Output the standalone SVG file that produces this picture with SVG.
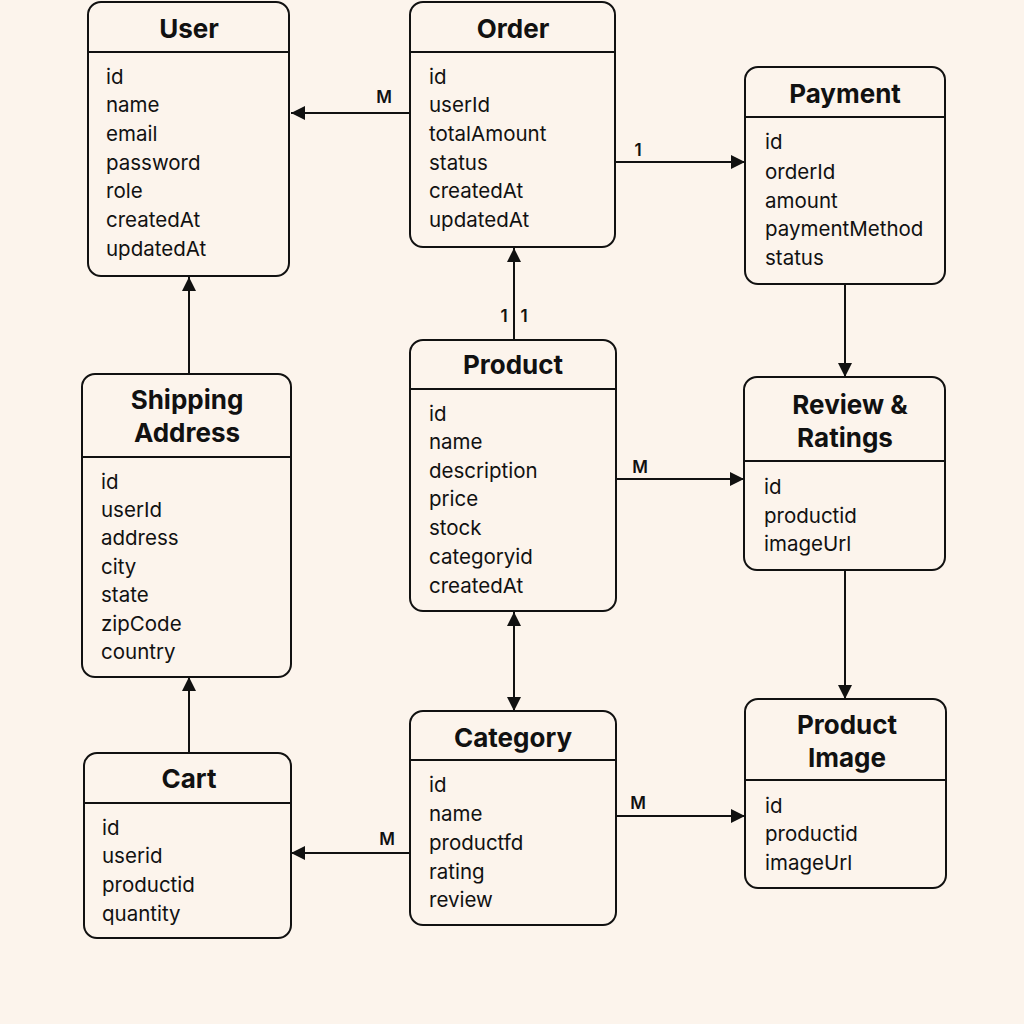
<svg xmlns="http://www.w3.org/2000/svg" width="1024" height="1024" viewBox="0 0 1024 1024">
<defs>
<marker id="arr" viewBox="0 0 10 10" refX="10" refY="5" markerWidth="14" markerHeight="14" markerUnits="userSpaceOnUse" orient="auto-start-reverse">
<path d="M0,0 L10,5 L0,10 z" fill="#111"/>
</marker>
<style>
.box{fill:#FCF4EC;stroke:#111;stroke-width:2}
.div{stroke:#111;stroke-width:1.8}
.t{font-family:Inter,"Liberation Sans",sans-serif;font-weight:700;font-size:26px;fill:#111;text-anchor:middle;dominant-baseline:central}
.f{font-family:Inter,"Liberation Sans",sans-serif;font-size:20.5px;fill:#111;dominant-baseline:central}
.c{stroke:#111;stroke-width:2;fill:none}
.l{font-family:Inter,"Liberation Sans",sans-serif;font-weight:600;font-size:17px;fill:#111;text-anchor:middle;dominant-baseline:central}
</style>
</defs>
<rect width="1024" height="1024" fill="#FCF4EC"/>

<g id="connectors">
<line class="c" x1="410" y1="113" x2="291" y2="113" marker-end="url(#arr)"/>
<text class="l" x="384" y="97">M</text>
<line class="c" x1="616" y1="162" x2="745" y2="162" marker-end="url(#arr)"/>
<text class="l" x="638" y="150">1</text>
<line class="c" x1="514" y1="340" x2="514" y2="248" marker-end="url(#arr)"/>
<text class="l" x="504" y="316">1</text>
<text class="l" x="524" y="316">1</text>
<line class="c" x1="845" y1="285" x2="845" y2="377" marker-end="url(#arr)"/>
<line class="c" x1="616" y1="479" x2="744" y2="479" marker-end="url(#arr)"/>
<text class="l" x="640" y="467">M</text>
<line class="c" x1="845" y1="570" x2="845" y2="699" marker-end="url(#arr)"/>
<line class="c" x1="514" y1="612" x2="514" y2="711" marker-start="url(#arr)" marker-end="url(#arr)"/>
<line class="c" x1="410" y1="853" x2="291" y2="853" marker-end="url(#arr)"/>
<text class="l" x="387" y="839">M</text>
<line class="c" x1="616" y1="816" x2="745" y2="816" marker-end="url(#arr)"/>
<text class="l" x="638" y="803">M</text>
<line class="c" x1="189" y1="374" x2="189" y2="277" marker-end="url(#arr)"/>
<line class="c" x1="189" y1="753" x2="189" y2="677" marker-end="url(#arr)"/>
</g>

<g id="user">
<rect class="box" x="88" y="2" width="201" height="274" rx="13"/>
<line class="div" x1="88" y1="52" x2="289" y2="52"/>
<text class="t" x="189" y="28">User</text>
<text class="f" x="106" y="76">id</text>
<text class="f" x="106" y="104">name</text>
<text class="f" x="106" y="133">email</text>
<text class="f" x="106" y="162">password</text>
<text class="f" x="106" y="190">role</text>
<text class="f" x="106" y="219">createdAt</text>
<text class="f" x="106" y="248">updatedAt</text>
</g>

<g id="order">
<rect class="box" x="410" y="2" width="205" height="245" rx="13"/>
<line class="div" x1="410" y1="52" x2="615" y2="52"/>
<text class="t" x="513" y="28">Order</text>
<text class="f" x="429" y="76">id</text>
<text class="f" x="429" y="104">userId</text>
<text class="f" x="429" y="133">totalAmount</text>
<text class="f" x="429" y="162">status</text>
<text class="f" x="429" y="190">createdAt</text>
<text class="f" x="429" y="219">updatedAt</text>
</g>

<g id="payment">
<rect class="box" x="745" y="67" width="200" height="217" rx="13"/>
<line class="div" x1="745" y1="117" x2="945" y2="117"/>
<text class="t" x="845" y="93">Payment</text>
<text class="f" x="765" y="141">id</text>
<text class="f" x="765" y="171">orderId</text>
<text class="f" x="765" y="200">amount</text>
<text class="f" x="765" y="228">paymentMethod</text>
<text class="f" x="765" y="257">status</text>
</g>

<g id="shipping-address">
<rect class="box" x="82" y="374" width="209" height="303" rx="13"/>
<line class="div" x1="82" y1="457" x2="291" y2="457"/>
<text class="t" x="187" y="399">Shipping</text>
<text class="t" x="187" y="432">Address</text>
<text class="f" x="101" y="481">id</text>
<text class="f" x="101" y="509">userId</text>
<text class="f" x="101" y="537">address</text>
<text class="f" x="101" y="566">city</text>
<text class="f" x="101" y="594">state</text>
<text class="f" x="101" y="623">zipCode</text>
<text class="f" x="101" y="651">country</text>
</g>

<g id="product">
<rect class="box" x="410" y="340" width="206" height="271" rx="13"/>
<line class="div" x1="410" y1="389" x2="616" y2="389"/>
<text class="t" x="513" y="364">Product</text>
<text class="f" x="429" y="413">id</text>
<text class="f" x="429" y="441">name</text>
<text class="f" x="429" y="470">description</text>
<text class="f" x="429" y="498">price</text>
<text class="f" x="429" y="527">stock</text>
<text class="f" x="429" y="556">categoryid</text>
<text class="f" x="429" y="585">createdAt</text>
</g>

<g id="review-ratings">
<rect class="box" x="744" y="377" width="201" height="193" rx="13"/>
<line class="div" x1="744" y1="461" x2="945" y2="461"/>
<text class="t" x="850" y="404">Review &amp;</text>
<text class="t" x="845" y="437">Ratings</text>
<text class="f" x="764" y="486">id</text>
<text class="f" x="764" y="515">productid</text>
<text class="f" x="764" y="543">imageUrl</text>
</g>

<g id="cart">
<rect class="box" x="84" y="753" width="207" height="185" rx="13"/>
<line class="div" x1="84" y1="803" x2="291" y2="803"/>
<text class="t" x="189" y="778">Cart</text>
<text class="f" x="102" y="827">id</text>
<text class="f" x="102" y="855">userid</text>
<text class="f" x="102" y="884">productid</text>
<text class="f" x="102" y="913">quantity</text>
</g>

<g id="category">
<rect class="box" x="410" y="711" width="206" height="214" rx="13"/>
<line class="div" x1="410" y1="760" x2="616" y2="760"/>
<text class="t" x="513" y="737">Category</text>
<text class="f" x="429" y="784">id</text>
<text class="f" x="429" y="813">name</text>
<text class="f" x="429" y="842">productfd</text>
<text class="f" x="429" y="871">rating</text>
<text class="f" x="429" y="899">review</text>
</g>

<g id="product-image">
<rect class="box" x="745" y="699" width="201" height="189" rx="13"/>
<line class="div" x1="745" y1="780" x2="946" y2="780"/>
<text class="t" x="847" y="724">Product</text>
<text class="t" x="847" y="757">Image</text>
<text class="f" x="765" y="805">id</text>
<text class="f" x="765" y="833">productid</text>
<text class="f" x="765" y="862">imageUrl</text>
</g>
</svg>
